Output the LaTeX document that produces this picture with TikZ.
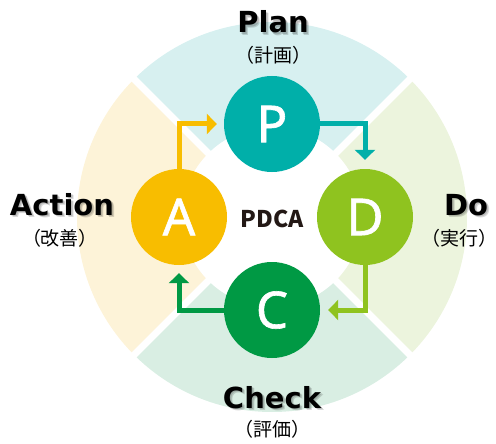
\documentclass[tikz,border=0pt]{standalone}
\usepackage{fontspec}
\usetikzlibrary{arrows.meta}
\newfontfamily\labfont{DejaVu Sans}
\newfontfamily\jpfont{Noto Sans CJK JP}
\newfontfamily\letfont[FakeBold=1.2]{Noto Sans}
\definecolor{topbg}{HTML}{D7F0F0}
\definecolor{leftbg}{HTML}{FDF3D8}
\definecolor{rightbg}{HTML}{ECF4DD}
\definecolor{botbg}{HTML}{D9EEE3}
\definecolor{pcol}{HTML}{00AFA9}
\definecolor{dcol}{HTML}{8FC31F}
\definecolor{ccol}{HTML}{009944}
\definecolor{acol}{HTML}{F8BD00}
\definecolor{txtcol}{HTML}{231815}
\tikzset{
  phase/.style={circle, inner sep=0pt, minimum size=96pt, text=white,
    font=\letfont\fontsize{51}{51}\selectfont},
  flow/.style={line width=5pt, -{Triangle[width=20pt,length=10pt]}},
  title/.style={anchor=base, font=\labfont\bfseries\fontsize{29}{29}\selectfont, text=black},
  tshadow/.style={anchor=base, font=\labfont\bfseries\fontsize{29}{29}\selectfont, text=black, opacity=0.15},
  sub/.style={anchor=base, font=\jpfont\fontsize{19}{19}\selectfont, text=black},
}
\newcommand{\jpsub}[1]{\kern-7pt（#1）\kern-7pt}
\begin{document}
\begin{tikzpicture}[x=1pt,y=-1pt]
\useasboundingbox (0,0) rectangle (496,444);
\coordinate (O) at (272,217);
% sectors
\begin{scope}
  \clip (272,217) -- (-28,-83) -- (572,-83) -- cycle;
  \fill[topbg] (O) circle (195);
\end{scope}
\begin{scope}
  \clip (272,217) -- (572,-83) -- (572,517) -- cycle;
  \fill[rightbg] (O) circle (195);
\end{scope}
\begin{scope}
  \clip (272,217) -- (572,517) -- (-28,517) -- cycle;
  \fill[botbg] (O) circle (195);
\end{scope}
\begin{scope}
  \clip (272,217) -- (-28,517) -- (-28,-83) -- cycle;
  \fill[leftbg] (O) circle (195);
\end{scope}
\draw[white, line width=7pt] (62,7) -- (482,427);
\draw[white, line width=7pt] (482,7) -- (62,427);
\fill[white] (O) circle (90);
% center text
\node[font=\jpfont\bfseries\fontsize{23}{23}\selectfont, text=txtcol] (pdca) at (272,219) {PDCA};
% phase circles
\node[phase, fill=pcol] (P) at (272,124) {P};
\node[phase, fill=dcol] (D) at (365,217) {D};
\node[phase, fill=ccol] (C) at (272,310) {C};
\node[phase, fill=acol] (A) at (179,217) {A};
% connectors
\draw[flow, acol, shorten >=7pt] (A) |- (P);
\draw[flow, pcol, shorten >=9pt] (P) -| (D);
\draw[flow, dcol, shorten >=8pt] (D) |- (C);
\draw[flow, ccol, shorten >=8pt] (C) -| (A);
% soft text shadows
\foreach \dx/\dy in {1.5/1.5, 2.5/2.5} {
  \node[tshadow] at (273+\dx,33+\dy) {Plan};
  \node[tshadow] at (466+\dx,215+\dy) {Do};
  \node[tshadow] at (272+\dx,408+\dy) {Check};
  \node[tshadow] at (62+\dx,215+\dy) {Action};
}
% labels
\node[title] (plan) at (273,33) {Plan};
\node[sub] (plansub) at (273,63) {\jpsub{計画}};
\node[title] (do) at (466,215) {Do};
\node[sub] (dosub) at (459,245) {\jpsub{実行}};
\node[title] (check) at (272,408) {Check};
\node[sub] (checksub) at (272,436) {\jpsub{評価}};
\node[title] (action) at (62,215) {Action};
\node[sub] (actionsub) at (60,245) {\jpsub{改善}};
\end{tikzpicture}
\end{document}
